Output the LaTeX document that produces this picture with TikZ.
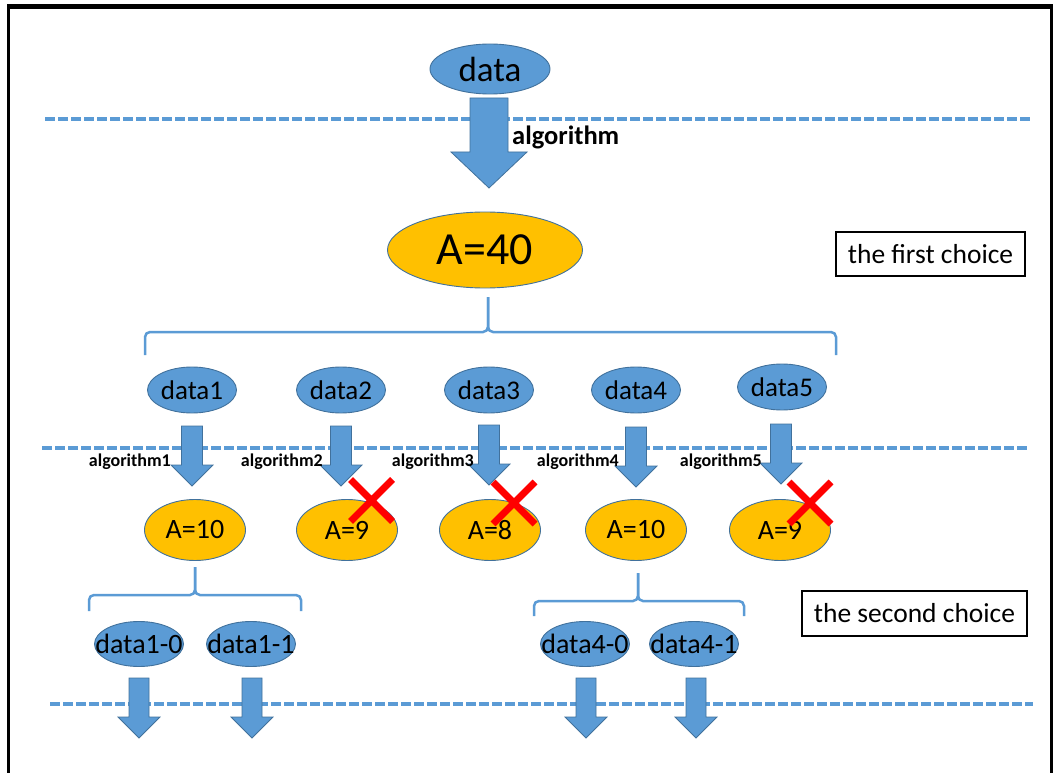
\documentclass[tikz,border=0pt]{standalone}
\usepackage{fontspec}
\setmainfont{Carlito}
\usetikzlibrary{shapes.geometric}

\definecolor{oblue}{HTML}{5B9BD5}
\definecolor{oedge}{HTML}{41719C}
\definecolor{ogold}{HTML}{FFC000}

% text that may overhang its ellipse without widening it
\newcommand\zerowide[1]{\makebox[0pt]{#1}}

\tikzset{
  bluenode/.style={ellipse, draw=oedge, line width=0.9pt, fill=oblue, inner sep=0pt, text=black},
  goldnode/.style={ellipse, draw=oedge, line width=0.9pt, fill=ogold, inner sep=0pt, text=black},
  splitnode/.style={bluenode, minimum width=89pt, minimum height=46pt, font=\fontsize{27}{31}\selectfont},
  leafnode/.style={bluenode, minimum width=89pt, minimum height=45pt, font=\fontsize{28}{32}\selectfont},
  scorenode/.style={goldnode, minimum width=101pt, minimum height=61pt, font=\fontsize{28}{32}\selectfont},
  guide/.style={draw=oblue, line width=3.6pt, dash pattern=on 9.5pt off 3.5pt},
  bracket/.style={draw=oblue, line width=2.5pt, rounded corners=5pt},
  choicebox/.style={draw=black, line width=1.3pt, fill=white, inner sep=0pt, font=\fontsize{27.5}{32}\selectfont},
  stepname/.style={anchor=east, inner sep=0pt, font=\bfseries\fontsize{18}{20}\selectfont},
  reject/.style={draw=red, line width=7pt},
  pics/fatdown/.style args={#1/#2/#3/#4}{code={
    \filldraw[fill=oblue, draw=oedge, line width=0.8pt]
      (-#1,0) -- (#1,0) -- (#1,#3) -- (#2,#3) -- (0,#3+#4) -- (-#2,#3) -- (-#1,#3) -- cycle;
  }},
  pics/cross/.style={code={
    \draw[reject] (-21,-21) -- (21,21) (-21,21) -- (21,-21);
  }},
}

\begin{document}
\begin{tikzpicture}[x=1pt, y=-1pt]
\useasboundingbox (0,0) rectangle (1053,773);

% frame
\draw[line width=3.5pt] (8.5,773) -- (8.5,7) -- (1051.5,7) -- (1051.5,773);
\draw[line width=4.5pt] (7,6.5) -- (1053,6.5);

% level separators
\coordinate (g1a) at (45,119);   \coordinate (g1b) at (1030,119);
\coordinate (g2a) at (42,448);   \coordinate (g2b) at (1027,448);
\coordinate (g3a) at (50,704);   \coordinate (g3b) at (1033,704);
\draw[guide] (g1a) -- (g1b);
\draw[guide] (g2a) -- (g2b);
\draw[guide] (g3a) -- (g3b);

% root and first split
\node[bluenode, minimum width=120pt, minimum height=50pt, font=\fontsize{35}{40}\selectfont] (root) at (490,69) {\zerowide{data}};
\pic at (489,98) {fatdown=19/38/54/36};
\node[anchor=west, inner sep=0pt, font=\bfseries\fontsize{26.5}{30}\selectfont] (algo) at (512,137) {algorithm};

\node[goldnode, minimum width=195pt, minimum height=76pt, font=\fontsize{46}{50}\selectfont] (top) at (485,250) {\zerowide{A=40}};
\node[choicebox, minimum width=189pt, minimum height=44pt] (first) at (930.5,254) {the first choice};

% brace under A=40
\coordinate (b1l) at (145,355);
\coordinate (b1r) at (836,355);
\coordinate (b1t) at (488,297);
\draw[bracket] (b1l) -- (145,332) -- (488,332) -- (b1t);
\draw[bracket] (b1r) -- (836,332) -- (488,332) -- (b1t);

% first-level subsets
\node[splitnode] (d1) at (192,390) {\zerowide{data1}};
\node[splitnode] (d2) at (341,390) {\zerowide{data2}};
\node[splitnode] (d3) at (489,390) {\zerowide{data3}};
\node[splitnode] (d4) at (636,390) {\zerowide{data4}};
\node[splitnode] (d5) at (782,387) {\zerowide{data5}};

\pic at (192,426) {fatdown=10.5/21/39/21};
\pic at (341,426) {fatdown=10.5/21/39/21};
\pic at (489,425) {fatdown=10.5/21/39/21};
\pic at (636,427) {fatdown=10.5/21/39/21};
\pic at (781,424) {fatdown=10.5/21/39/21};

\node[stepname] (s1) at (171,462) {algorithm1};
\node[stepname] (s2) at (323,462) {algorithm2};
\node[stepname] (s3) at (474,462) {algorithm3};
\node[stepname] (s4) at (619,462) {algorithm4};
\node[stepname] (s5) at (762,462) {algorithm5};

\node[scorenode] (a1) at (195,530) {\zerowide{A=10}};
\node[scorenode] (a2) at (347,530) {\zerowide{A=9}};
\node[scorenode] (a3) at (490,530) {\zerowide{A=8}};
\node[scorenode] (a4) at (636,530) {\zerowide{A=10}};
\node[scorenode] (a5) at (780,530) {\zerowide{A=9}};

\pic at (371.5,500.5) {cross};
\pic at (514,503) {cross};
\pic at (810,503) {cross};

% braces under the kept results
\coordinate (b2l) at (89,611);
\coordinate (b2r) at (301,611);
\coordinate (b2t) at (195,567);
\draw[bracket] (b2l) -- (89,595) -- (195,595) -- (b2t);
\draw[bracket] (b2r) -- (301,595) -- (195,595) -- (b2t);

\coordinate (b3l) at (534,616);
\coordinate (b3r) at (744,616);
\coordinate (b3t) at (638,573);
\draw[bracket] (b3l) -- (534,601) -- (638,601) -- (b3t);
\draw[bracket] (b3r) -- (744,601) -- (638,601) -- (b3t);

\node[choicebox, minimum width=225pt, minimum height=45pt] (second) at (914.5,613.5) {the second choice};

% second-level subsets
\node[leafnode] (d10) at (139,644) {\zerowide{data1-0}};
\node[leafnode] (d11) at (251,644) {\zerowide{data1-1}};
\node[leafnode] (d40) at (585,644) {\zerowide{data4-0}};
\node[leafnode] (d41) at (694,644) {\zerowide{data4-1}};

\pic at (139,678) {fatdown=10/21/39/21};
\pic at (252,678) {fatdown=10/21/39/21};
\pic at (586,678) {fatdown=10/21/39/21};
\pic at (696,678) {fatdown=10/21/39/21};
\end{tikzpicture}
\end{document}
